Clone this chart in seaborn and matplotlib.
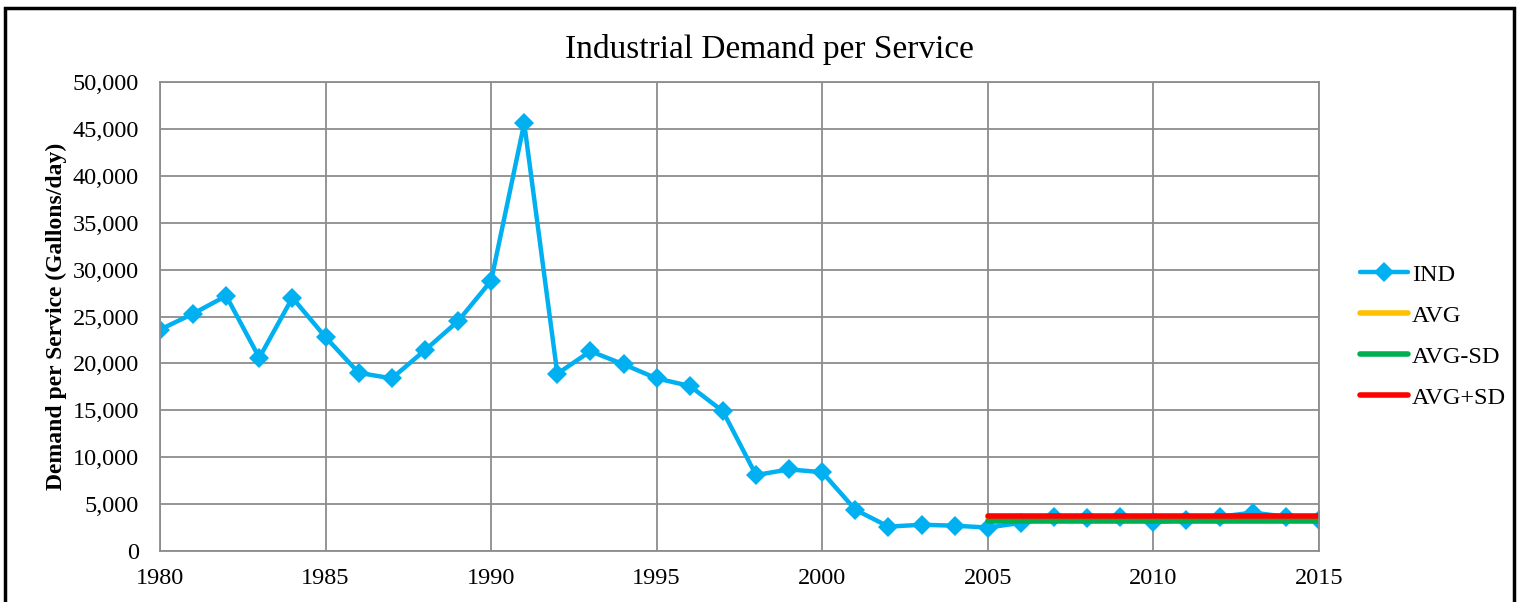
import matplotlib
matplotlib.use('Agg')
import matplotlib.pyplot as plt
from matplotlib import ticker as mtick
from matplotlib.patches import Rectangle
import pandas as pd
import seaborn as sns

# data
years = list(range(1980, 2016))
ind = [23600, 25300, 27200, 20600, 27000, 22800, 19000, 18400, 21400, 24500,
       28800, 45600, 18900, 21300, 19900, 18400, 17600, 14900, 8100, 8700,
       8400, 4400, 2600, 2800, 2700, 2500, 3000, 3650, 3550, 3650,
       3100, 3300, 3650, 4100, 3650, 3300]
stat_years = list(range(2005, 2016))
avg = [3480] * len(stat_years)
avg_minus_sd = [3230] * len(stat_years)
avg_plus_sd = [3730] * len(stat_years)

ind_df = pd.DataFrame({'Year': years, 'Demand': ind})
stats_df = pd.DataFrame({'Year': stat_years, 'AVG': avg,
                         'AVG-SD': avg_minus_sd, 'AVG+SD': avg_plus_sd})

sns.set_style('white')
plt.rcParams['font.family'] = ['Liberation Serif', 'DejaVu Serif']
plt.rcParams['text.color'] = 'black'

fig = plt.figure(figsize=(15.19, 6.02), dpi=100)
ax = fig.add_axes([0.1053, 0.0847, 0.763, 0.7791])

sns.lineplot(data=ind_df, x='Year', y='Demand', ax=ax, color='#00B0F0',
             lw=3.2, marker='D', markersize=10, markeredgewidth=0,
             label='IND')
sns.lineplot(data=stats_df, x='Year', y='AVG', ax=ax, color='#FFC000',
             lw=4, label='AVG')
sns.lineplot(data=stats_df, x='Year', y='AVG-SD', ax=ax, color='#00B050',
             lw=4, label='AVG-SD')
sns.lineplot(data=stats_df, x='Year', y='AVG+SD', ax=ax, color='#FF0000',
             lw=4, label='AVG+SD')

ax.set_xlim(1980, 2015)
ax.set_ylim(0, 50000)
ax.set_xticks(range(1980, 2016, 5))
ax.set_yticks(range(0, 50001, 5000))
ax.yaxis.set_major_formatter(mtick.StrMethodFormatter('{x:,.0f}'))
ax.tick_params(labelsize=17.5, length=0, colors='black')
ax.tick_params(axis='y', pad=15)
ax.tick_params(axis='x', pad=12)
ax.grid(True, color='#8c8c8c', lw=1.3)
for spine in ax.spines.values():
    spine.set_color('#8c8c8c')
    spine.set_linewidth(1.3)

ax.set_xlabel('')
ax.set_ylabel('Demand per Service (Gallons/day)', fontsize=17,
              fontweight='bold', labelpad=4, color='black')
ax.set_title('Industrial Demand per Service', fontsize=24, pad=17,
             x=0.526, color='black')

ax.legend(loc='center left', bbox_to_anchor=(1.035, 0.458), frameon=False,
          fontsize=17.5, handlelength=2.0, handletextpad=0.15,
          labelspacing=0.78, borderpad=0, borderaxespad=0)

# black outline of the chart area
fig.patches.append(Rectangle((0.0035, -0.05), 0.9935, 1.036,
                             transform=fig.transFigure, fill=False,
                             ec='black', lw=2.5, clip_on=False))

fig.savefig('out.png', dpi=100)
